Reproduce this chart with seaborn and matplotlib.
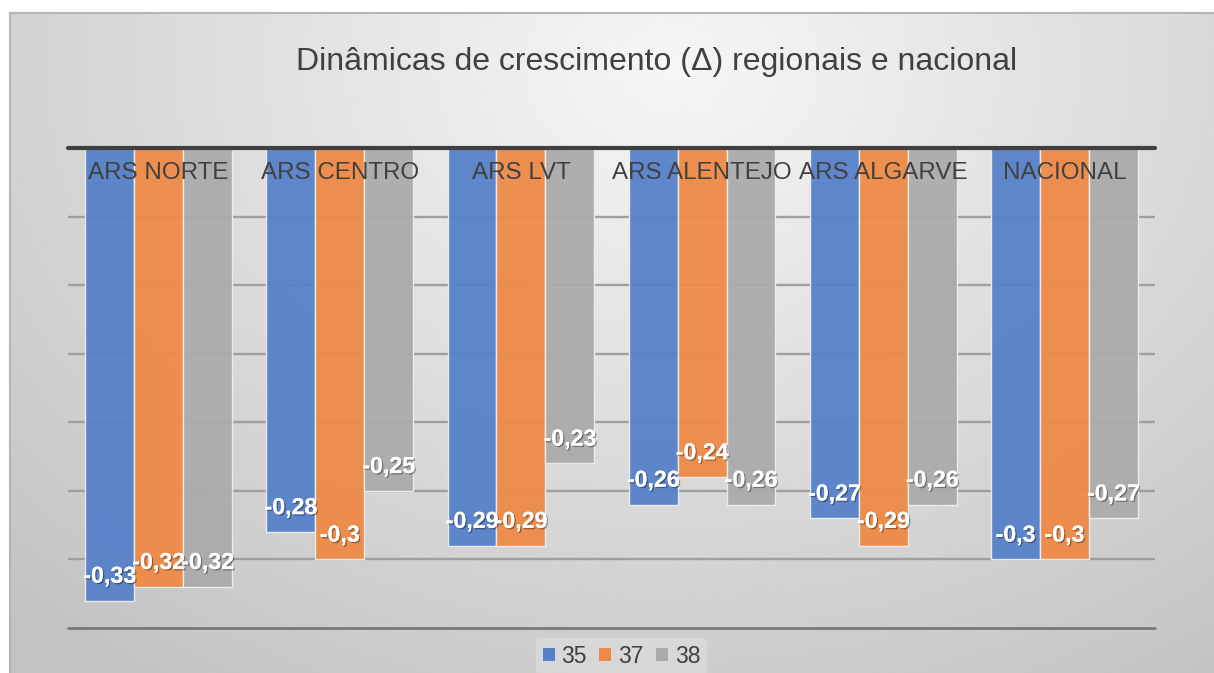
import numpy as np
import pandas as pd
import matplotlib
matplotlib.use("Agg")
import matplotlib.pyplot as plt
import matplotlib.patheffects as pe
from matplotlib.patches import Patch
import seaborn as sns

regions = ["ARS NORTE", "ARS CENTRO", "ARS LVT", "ARS ALENTEJO", "ARS ALGARVE", "NACIONAL"]
series = ["35", "37", "38"]
vals_35 = [-0.33, -0.28, -0.29, -0.26, -0.27, -0.30]
vals_37 = [-0.32, -0.30, -0.29, -0.24, -0.29, -0.30]
vals_38 = [-0.32, -0.25, -0.23, -0.26, -0.26, -0.27]
colors = ["#5681CA", "#EE8A46", "#ABABAB"]

df = pd.DataFrame({
    "region": regions * 3,
    "serie": [s for s in series for _ in regions],
    "value": vals_35 + vals_37 + vals_38,
})

sns.set_theme(style="white")
plt.rcParams["font.family"] = ["Liberation Sans", "DejaVu Sans"]

fig = plt.figure(figsize=(12.14, 6.73), dpi=100)
fig.patch.set_facecolor("white")

# gradient background of the chart frame
bg = fig.add_axes([10 / 1214, 0, 1 - 10 / 1214, 1 - 13 / 673])
yy, xx = np.mgrid[0:1:300j, 0:1:500j]
d = np.sqrt(((xx - 0.55) / 0.8) ** 2 + ((yy - 0.08) / 1.15) ** 2)
grad = 246 - 52 * np.clip(d, 0, 1)
bg.imshow(grad, cmap="gray", vmin=0, vmax=255, aspect="auto", extent=(0, 1, 1, 0))
bg.set_xticks([])
bg.set_yticks([])
for s in ["right", "bottom"]:
    bg.spines[s].set_visible(False)
for s in ["top", "left"]:
    bg.spines[s].set_color("#b5b5b5")
    bg.spines[s].set_linewidth(1.5)

ax = fig.add_axes([68 / 1214, 1 - 628 / 673, (1155 - 68) / 1214, (628 - 148) / 673])
ax.patch.set_alpha(0)

for g in [-0.05, -0.10, -0.15, -0.20, -0.25, -0.30]:
    ax.axhline(g, color="#9f9f9f", lw=1.7, zorder=0)
ax.axhline(-0.35, color="#787878", lw=2, zorder=0, clip_on=False)

sns.barplot(data=df, x="region", y="value", hue="serie", order=regions,
            hue_order=series, palette=colors, width=0.81, saturation=1,
            edgecolor="#eeeeee", linewidth=1, errorbar=None, legend=False,
            alpha=0.95, ax=ax, zorder=2)

ax.axhline(0, color="#3f3f3f", lw=3, zorder=5, clip_on=False)
ax.set_ylim(-0.35, 0)
ax.set_xlim(-0.5, 5.5)
ax.set_xlabel("")
ax.set_ylabel("")
ax.set_xticks([])
ax.set_yticks([])
sns.despine(ax=ax, left=True, bottom=True)

shadow = [pe.withSimplePatchShadow(offset=(1, -1), shadow_rgbFace="black", alpha=0.35),
          pe.Normal()]
for cont, vals in zip(ax.containers, [vals_35, vals_37, vals_38]):
    for bar, v in zip(cont, vals):
        txt = ("%g" % v).replace(".", ",")
        ax.annotate(txt, xy=(bar.get_x() + bar.get_width() / 2, v),
                    xytext=(0, 17.5), textcoords="offset points",
                    ha="center", va="center", fontsize=16.7, fontweight="bold",
                    color="white", path_effects=shadow, zorder=6)

for i, r in enumerate(regions):
    ax.annotate(r, xy=(i, 0), xytext=(0, -22.5), textcoords="offset points",
                ha="center", va="baseline", fontsize=17.4, color="#404040", zorder=6)

fig.text(0.541, 0.908, "Dinâmicas de crescimento (\u0394) regionais e nacional",
         ha="center", va="center", fontsize=23, color="#404040")

handles = [Patch(facecolor=c, edgecolor="none") for c in colors]
leg = fig.legend(handles, series, loc="center", bbox_to_anchor=(0.512, 0.025),
                 ncol=3, fontsize=16.5, frameon=True, facecolor="#e2e2e2",
                 edgecolor="none", framealpha=0.5, handlelength=0.52,
                 handleheight=0.52, handletextpad=0.3, columnspacing=0.55,
                 borderpad=0.3)
for t in leg.get_texts():
    t.set_color("#404040")

fig.savefig("out.png", dpi=100)
